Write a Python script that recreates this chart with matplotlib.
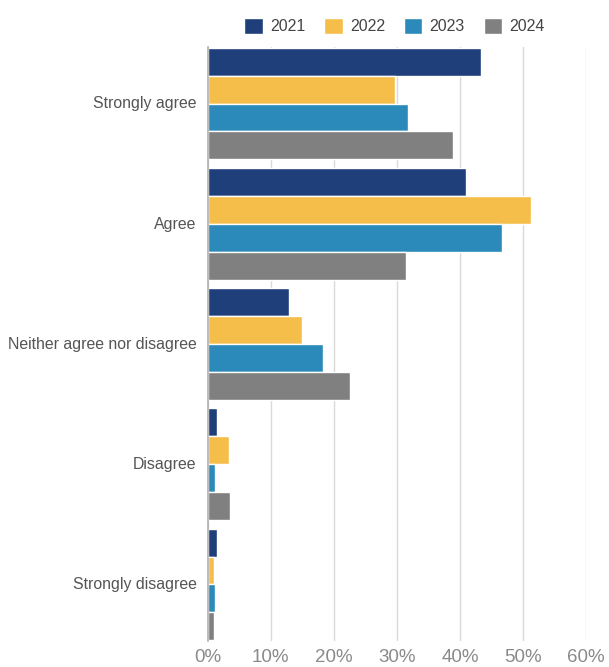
import numpy as np
import matplotlib
matplotlib.use("Agg")
import matplotlib.pyplot as plt
from matplotlib.ticker import PercentFormatter

plt.rcParams['font.family'] = ['Liberation Sans', 'DejaVu Sans']

categories = ['Strongly agree', 'Agree', 'Neither agree nor disagree',
              'Disagree', 'Strongly disagree']
years = ['2021', '2022', '2023', '2024']
v2021 = [43.3, 41.0, 12.9, 1.4, 1.4]
v2022 = [29.7, 51.2, 14.9, 3.4, 1.0]
v2023 = [31.8, 46.6, 18.3, 1.2, 1.2]
v2024 = [38.8, 31.5, 22.6, 3.6, 1.0]
colors = ['#1f3f7a', '#f5be4a', '#2b8aba', '#808080']
xticks = [0, 10, 20, 30, 40, 50, 60]

series = [v2021, v2022, v2023, v2024]

fig = plt.figure(figsize=(6.09, 6.67), dpi=100)
ax = fig.add_axes([0.341, 0.039, 0.6217, 0.8905])

pitch = 0.2324
y = np.arange(len(categories))
for i, (vals, col, yr) in enumerate(zip(series, colors, years)):
    offs = (i - 1.5) * pitch
    ax.barh(y + offs, vals, height=pitch, color=col, edgecolor='white',
            linewidth=1.0, label=yr, zorder=3)

ax.set_ylim(len(categories) - 1 + 2 * pitch + 0.005, -2 * pitch - 0.005)
ax.set_xlim(0, 60)
ax.set_yticks(y - 0.01)
ax.set_yticklabels(categories, fontsize=11.4, color='#555555')
ax.set_xticks(xticks)
ax.xaxis.set_major_formatter(PercentFormatter(decimals=0))
ax.tick_params(axis='x', labelsize=13.5, labelcolor='#8a8a8a', length=0, pad=6)
ax.tick_params(axis='y', length=0, pad=8)

ax.grid(axis='x', color='#d9d9d9', linewidth=1.0, zorder=0)
for s in ['top', 'right', 'bottom']:
    ax.spines[s].set_visible(False)
ax.spines['left'].set_color('#b0b0b0')
ax.spines['left'].set_linewidth(1.2)
ax.spines['left'].set_zorder(4)

fig.legend(loc='center', bbox_to_anchor=(0.648, 0.961), ncol=4, frameon=False,
           fontsize=11.5, handlelength=1.15, handleheight=1.15,
           handletextpad=0.45, columnspacing=1.2, labelcolor='#444444')

fig.savefig('out.png', dpi=100)
